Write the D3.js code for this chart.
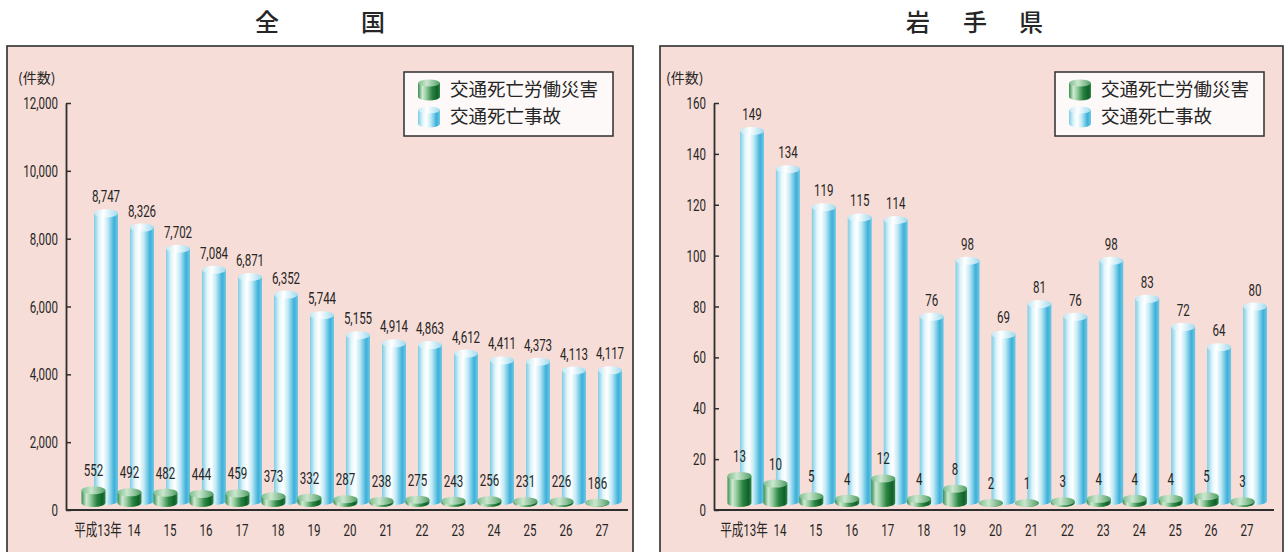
<!DOCTYPE html>
<html>
<head>
<meta charset="utf-8">
<script src="https://cdn.jsdelivr.net/npm/d3@7"></script>
<style>
  body { margin: 0; background: #fff; }
  svg { display: block; }
  .num { font-family: Roboto, 'Noto Sans CJK JP', sans-serif; fill: #262626; }
  .cjk { font-family: 'Noto Sans CJK JP', sans-serif; fill: #262626; }
</style>
</head>
<body>
<div id="chart"></div>
<script>
// categories and values
var years = ["平成13年", "14", "15", "16", "17", "18", "19", "20", "21", "22", "23", "24", "25", "26", "27"];
var nationalWork = [552, 492, 482, 444, 459, 373, 332, 287, 238, 275, 243, 256, 231, 226, 186];
var nationalTraffic = [8747, 8326, 7702, 7084, 6871, 6352, 5744, 5155, 4914, 4863, 4612, 4411, 4373, 4113, 4117];
var iwateWork = [13, 10, 5, 4, 12, 4, 8, 2, 1, 3, 4, 4, 4, 5, 3];
var iwateTraffic = [149, 134, 119, 115, 114, 76, 98, 69, 81, 76, 98, 83, 72, 64, 80];
var nationalTicks = [0, 2000, 4000, 6000, 8000, 10000, 12000];
var iwateTicks = [0, 20, 40, 60, 80, 100, 120, 140, 160];
var seriesNames = ["交通死亡労働災害", "交通死亡事故"];
var nationalTitle = ["全", "国"];
var iwateTitle = ["岩", "手", "県"];

var W = 1287, H = 552;

var svg = d3.select("#chart")
	.append("svg")
	.attr("width", W)
	.attr("height", H);

// gradients for the cylinders
var defs = svg.append("defs");
function gradient(id, stops) {
	var g = defs.append("linearGradient").attr("id", id)
		.attr("x1", "0%").attr("x2", "100%").attr("y1", "0%").attr("y2", "0%");
	stops.forEach(s => g.append("stop").attr("offset", s[0]).attr("stop-color", s[1]));
}
gradient("blueBody", [["0%", "#7ccde5"], ["22%", "#e4f6fb"], ["38%", "#ffffff"], ["58%", "#bfe9f5"], ["84%", "#3cb0d9"], ["100%", "#72c8e4"]]);
gradient("blueTop", [["0%", "#bfe6f2"], ["40%", "#ffffff"], ["100%", "#9fdaee"]]);
gradient("greenBody", [["0%", "#378f50"], ["20%", "#cfe9d2"], ["36%", "#9ccfa4"], ["64%", "#2a8442"], ["88%", "#0f6128"], ["100%", "#35854a"]]);
gradient("greenTop", [["0%", "#7fbd8c"], ["40%", "#cbe7cf"], ["100%", "#4f9e64"]]);

function cylinder(g, cx, yt, yb, rx, ry, body, top) {
	if (yt > yb) yt = yb;
	g.append("path")
		.attr("d", `M${cx - rx},${yt} L${cx - rx},${yb} A${rx},${ry} 0 0 0 ${cx + rx},${yb} L${cx + rx},${yt} Z`)
		.attr("fill", `url(#${body})`);
	g.append("ellipse")
		.attr("cx", cx).attr("cy", yt)
		.attr("rx", rx).attr("ry", ry)
		.attr("fill", `url(#${top})`);
}

// narrow (condensed) number text, like the original's typeface
function narrow(g, x, y, anchor, str, size) {
	return g.append("text")
		.attr("class", "num")
		.attr("transform", `translate(${x},${y}) scale(0.68,1)`)
		.attr("text-anchor", anchor)
		.attr("font-size", size || 17)
		.text(str);
}

function drawPanel(cfg) {
	var g = svg.append("g");

	// panel background
	g.append("rect")
		.attr("x", cfg.left).attr("y", 46)
		.attr("width", cfg.width).attr("height", 540)
		.attr("fill", "#f7ddd7")
		.attr("stroke", "#2e2e2e")
		.attr("stroke-width", 1.6);

	// title, one character at a time
	g.selectAll(".title")
		.data(cfg.title)
		.join("text")
		.attr("class", "cjk")
		.attr("x", (d, i) => cfg.titleX[i]).attr("y", 31)
		.attr("text-anchor", "middle")
		.attr("font-size", 24)
		.attr("font-weight", 500)
		.text(d => d);

	var y = d3.scaleLinear()
		.domain([0, d3.max(cfg.ticks)])
		.range([510, 103]);

	var x = d3.scaleBand()
		.domain(years)
		.range(cfg.xRange);

	var cx = d => x(d) + x.bandwidth() / 2;

	// y axis, ticks pointing inward
	var yAxis = g.append("g")
		.attr("transform", `translate(${cfg.axisX},0)`)
		.call(d3.axisLeft(y).tickValues(cfg.ticks).tickSize(-5).tickSizeOuter(0).tickFormat(""));
	yAxis.select(".domain").attr("stroke", "#2e2e2e").attr("stroke-width", 1.8);
	yAxis.selectAll(".tick line").attr("stroke", "#2e2e2e").attr("stroke-width", 1.5);
	cfg.ticks.forEach(t => narrow(g, cfg.axisX - 8, y(t) + 6, "end", cfg.fmt(t)));

	// unit label
	g.append("text")
		.attr("class", "cjk")
		.attr("x", cfg.axisX - 48).attr("y", 83)
		.attr("font-size", 14)
		.text("(件数)");

	// x baseline
	g.append("line")
		.attr("x1", cfg.axisX).attr("x2", cfg.lineEnd)
		.attr("y1", y(0)).attr("y2", y(0))
		.attr("stroke", "#2e2e2e").attr("stroke-width", 1.8);

	// x labels
	years.forEach(d => narrow(g, cx(d), 536, "middle", d));

	var bars = g.append("g");
	// traffic accidents (behind)
	cfg.traffic.forEach((v, i) => {
		var c = cx(years[i]) + 8;
		cylinder(bars, c, y(v), y(0) - 9, 12, 4, "blueBody", "blueTop");
		narrow(bars, c, y(v) - 11, "middle", cfg.fmt(v));
	});
	// work accidents (front)
	cfg.work.forEach((v, i) => {
		var c = cx(years[i]) - 4.5;
		var yb = y(0) - 7;
		var yt = Math.min(y(v) - 1, yb);
		cylinder(bars, c, yt, yb, 12, 4, "greenBody", "greenTop");
		narrow(bars, c, yt - 14, "middle", cfg.fmt(v));
	});

	// legend
	var lg = g.append("g").attr("transform", `translate(${cfg.legendX},72)`);
	lg.append("rect")
		.attr("width", 209).attr("height", 64)
		.attr("fill", "#fdf9f8")
		.attr("stroke", "#2e2e2e").attr("stroke-width", 1.5);
	cylinder(lg, 25, 11, 25, 11, 3.5, "greenBody", "greenTop");
	cylinder(lg, 25, 38, 52, 11, 3.5, "blueBody", "blueTop");
	lg.selectAll(".ltext")
		.data(seriesNames)
		.join("text")
		.attr("class", "cjk")
		.attr("x", 46)
		.attr("y", (d, i) => 24 + i * 27)
		.attr("font-size", 18.5)
		.text(d => d);
}

drawPanel({
	left: 7, width: 626,
	title: nationalTitle, titleX: [267, 373],
	ticks: nationalTicks,
	axisX: 66, lineEnd: 628,
	xRange: [80, 620],
	work: nationalWork, traffic: nationalTraffic,
	fmt: d3.format(","),
	legendX: 404
});

drawPanel({
	left: 660, width: 623,
	title: iwateTitle, titleX: [918, 975, 1031],
	ticks: iwateTicks,
	axisX: 714, lineEnd: 1274,
	xRange: [726, 1265],
	work: iwateWork, traffic: iwateTraffic,
	fmt: d3.format("d"),
	legendX: 1055
});
</script>
</body>
</html>
